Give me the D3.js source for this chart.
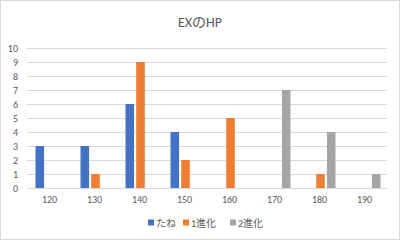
<!DOCTYPE html>
<html><head><meta charset="utf-8">
<script src="https://cdn.jsdelivr.net/npm/d3@7"></script>
<style>body{margin:0;background:#fff}svg{display:block}text{font-family:Calibri,Carlito,"Noto Sans CJK JP","Liberation Sans",sans-serif}</style>
</head><body>
<script>
const categories = ["120","130","140","150","160","170","180","190"];
const seriesNames = ["たね","1進化","2進化"];
const tane = [3,3,6,4,0,0,0,0];
const shinka1 = [0,1,9,2,5,0,1,0];
const shinka2 = [0,0,0,0,0,7,4,1];
const yTicks = [0,1,2,3,4,5,6,7,8,9,10];
const colors = ["#4472C4","#ED7D31","#A5A5A5"];
const seriesValues = [tane, shinka1, shinka2];

(function(){
const W=400,H=240;
const svg=d3.select("body").append("svg").attr("width",W).attr("height",H);
svg.append("rect").attr("x",0.5).attr("y",0.5).attr("width",W-1).attr("height",H-1).attr("fill","#fff").attr("stroke","#d9d9d9");
const pL=27,pR=387,pT=48,pB=188;
const x=d3.scaleBand().domain(categories).range([pL,pR]);
const y=d3.scaleLinear().domain([0,10]).range([pB,pT]);
const inner=d3.scaleBand().domain(seriesNames).range([-14,16]).paddingInner(0.2).paddingOuter(0);

svg.append("text").attr("x",W/2).attr("y",27).attr("text-anchor","middle").attr("font-size",14).attr("fill","#595959").text("EXのHP");

svg.append("g").selectAll("line").data(yTicks).join("line")
 .attr("x1",pL).attr("x2",pR).attr("y1",d=>Math.round(y(d))+0.5).attr("y2",d=>Math.round(y(d))+0.5)
 .attr("stroke","#d9d9d9").attr("stroke-width",1);

const yAxis=d3.axisLeft(y).tickValues(yTicks).tickSize(0).tickPadding(0);
const ga=svg.append("g").attr("transform",`translate(${pL-9},0)`).call(yAxis);
ga.select(".domain").remove();
ga.selectAll("text").attr("font-size",10).attr("fill","#595959").style("font-family","Calibri,Carlito,'Liberation Sans',sans-serif");

const xAxis=d3.axisBottom(x).tickSize(0).tickPadding(0);
const gx=svg.append("g").attr("transform",`translate(0,${pB+8})`).call(xAxis);
gx.select(".domain").remove();
gx.selectAll("text").attr("font-size",10).attr("fill","#595959").style("font-family","Calibri,Carlito,'Liberation Sans',sans-serif");

seriesValues.forEach((vals,si)=>{
  svg.append("g").selectAll("rect").data(vals.map((v,i)=>({c:categories[i],v})).filter(d=>d.v>0)).join("rect")
   .attr("x",d=>x(d.c)+x.bandwidth()/2+inner(seriesNames[si]))
   .attr("width",inner.bandwidth())
   .attr("y",d=>y(d.v)).attr("height",d=>y(0)-y(d.v))
   .attr("fill",colors[si]);
});

const lg=svg.append("g").attr("transform","translate(0,223)");
const lx=[148,183,230];
seriesNames.forEach((n,i)=>{
  lg.append("rect").attr("x",lx[i]).attr("y",-3.5).attr("width",6).attr("height",6).attr("fill",colors[i]);
  lg.append("text").attr("x",lx[i]+8).attr("y",3.5).attr("font-size",10).attr("fill","#595959").text(n);
});
})();
</script>
</body></html>
